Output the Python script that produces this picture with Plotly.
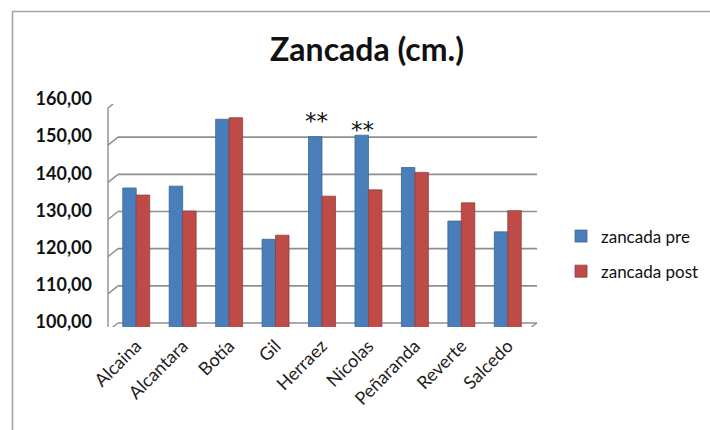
import plotly.graph_objects as go

# Step length per athlete, before and after the programme (cm)
athletes = ["Alcaina", "Alcantara", "Botía", "Gil", "Herraez",
            "Nicolas", "Peñaranda", "Reverte", "Salcedo"]
zancada_pre = [137.4, 137.9, 155.9, 123.6, 151.2, 151.6, 142.9, 128.5, 125.6]
zancada_post = [135.5, 131.2, 156.3, 124.7, 135.2, 136.9, 141.6, 133.4, 131.3]
y_ticks = [100, 110, 120, 130, 140, 150, 160]
marked = ["Herraez", "Nicolas"]          # athletes flagged with "**"
mark_lift = [1, -10]                     # pixel lift of each flag above its bar

W, H = 710, 430
ML, MR, MT, MB = 113, 179, 104, 103
PW, PH = W - ML - MR, H - MT - MB

BLUE, RED = "#4A7EBB", "#BE4B48"
GRID = "#8E8E8E"
DEPTH_X, DEPTH_Y = 5, 4                  # half-depth of the 3D box, pixels

fig = go.Figure()
fig.add_trace(go.Bar(name="zancada pre", x=athletes, y=zancada_pre,
                     marker=dict(color=BLUE, line=dict(color="#3A6496", width=0.8)),
                     legendgroup="pre"))
fig.add_trace(go.Bar(name="zancada post", x=athletes, y=zancada_post,
                     marker=dict(color=RED, line=dict(color="#963C3A", width=0.8)),
                     legendgroup="post"))

shapes = []
# back wall gridlines and side-wall slants, one per tick value
for v in y_ticks:
    shapes.append(dict(type="line", xref="x domain", yref="y",
                       xsizemode="pixel", ysizemode="pixel",
                       xanchor=0, yanchor=v,
                       x0=DEPTH_X, x1=PW + DEPTH_X + 1, y0=DEPTH_Y, y1=DEPTH_Y,
                       line=dict(color=GRID, width=1.6), layer="below"))
    shapes.append(dict(type="line", xref="x domain", yref="y",
                       xsizemode="pixel", ysizemode="pixel",
                       xanchor=0, yanchor=v,
                       x0=-DEPTH_X, x1=DEPTH_X, y0=-DEPTH_Y, y1=DEPTH_Y,
                       line=dict(color=GRID, width=1.4), layer="below"))
# front vertical edge of the side wall
shapes.append(dict(type="line", xref="x domain", yref="y",
                   xsizemode="pixel", ysizemode="pixel",
                   xanchor=0, yanchor=y_ticks[0],
                   x0=-DEPTH_X, x1=-DEPTH_X, y0=-DEPTH_Y, y1=PH - DEPTH_Y,
                   line=dict(color=GRID, width=1.4), layer="below"))
# floor: front edge and right slant
shapes.append(dict(type="line", xref="x domain", yref="y",
                   xsizemode="pixel", ysizemode="pixel",
                   xanchor=0, yanchor=y_ticks[0],
                   x0=-DEPTH_X, x1=PW - DEPTH_X, y0=-DEPTH_Y, y1=-DEPTH_Y,
                   line=dict(color=GRID, width=1.4), layer="above"))
shapes.append(dict(type="line", xref="x domain", yref="y",
                   xsizemode="pixel", ysizemode="pixel",
                   xanchor=0, yanchor=y_ticks[0],
                   x0=PW - DEPTH_X, x1=PW + DEPTH_X + 1, y0=-DEPTH_Y, y1=DEPTH_Y,
                   line=dict(color=GRID, width=1.4), layer="above"))

# outer chart frame (left and top edges)
def px_x(p):
    return (p - ML) / PW

def px_y(p):
    return (H - MB - p) / PH

shapes.append(dict(type="path", xref="paper", yref="paper",
                   path=f"M {px_x(12.5)},{px_y(440)} L {px_x(12.5)},{px_y(11.5)} L {px_x(720)},{px_y(11.5)}",
                   line=dict(color="#A5A5A5", width=1.6)))

annotations = []
for name, lift in zip(marked, mark_lift):
    val = zancada_pre[athletes.index(name)]
    annotations.append(dict(x=name, y=val, xref="x", yref="y", text="**",
                            showarrow=False, xshift=-6, yshift=lift,
                            yanchor="bottom",
                            font=dict(family="DejaVu Sans", size=23, color="#111")))

fig.update_layout(
    width=W, height=H,
    margin=dict(l=ML, r=MR, t=MT, b=MB, pad=0, autoexpand=False),
    paper_bgcolor="white", plot_bgcolor="rgba(0,0,0,0)",
    separators=",.",
    barmode="group", bargap=0.42, bargroupgap=0,
    title=dict(text="<b>Zancada (cm.)</b>", x=367 / W, xanchor="center",
               y=1 - 50 / H, yanchor="middle",
               font=dict(family="Lato", size=32, color="#111")),
    xaxis=dict(showgrid=False, showline=False, zeroline=False, ticks="",
               tickangle=-45, ticklabelstandoff=4, automargin=False,
               tickfont=dict(family="Lato", size=18, color="#222")),
    yaxis=dict(range=[y_ticks[0], y_ticks[-1]], tickvals=y_ticks, tickformat=".2f",
               showgrid=False, showline=False, zeroline=False, ticks="",
               ticklabelstandoff=20, ticklabelshift=-5, automargin=False,
               tickfont=dict(family="Lato", size=18, color="#111", weight="bold")),
    legend=dict(x=px_x(561), y=px_y(254), xanchor="left", yanchor="middle",
                tracegroupgap=10, itemwidth=30,
                font=dict(family="Lato", size=17, color="#111")),
    shapes=shapes, annotations=annotations,
)

fig.write_html("out.html")
